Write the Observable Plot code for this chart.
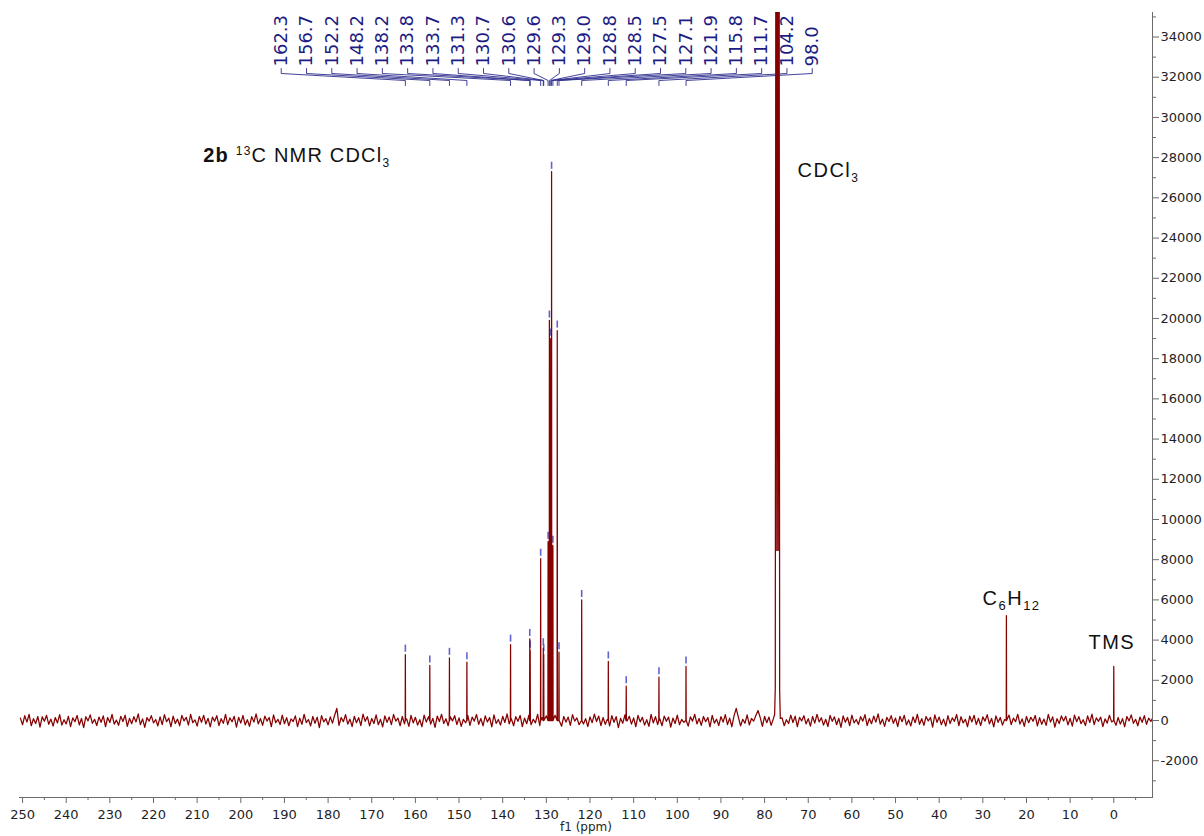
<!DOCTYPE html>
<html><head><meta charset="utf-8">
<script src="https://cdn.jsdelivr.net/npm/d3@7"></script>
<script src="https://cdn.jsdelivr.net/npm/@observablehq/plot@0.6"></script>
<style>html,body{margin:0;padding:0;background:#fff;} svg{display:block}</style>
</head><body><div id="chart"></div>
<script>
// ---------------- data ----------------
const peakPpm    = [162.3,156.7,152.2,148.2,138.2,133.8,133.7,131.3,130.7,130.6,129.6,129.3,129.0,128.8,128.5,127.5,127.1,121.9,115.8,111.7,104.2,98.0];
const peakHeight = [3280, 2740, 3120, 2900, 3780, 4060, 3480, 8050, 3600, 3300, 8900, 19900,19000,27300,8700, 19400,3400, 6000, 2940, 1710, 2160, 2690];
const peakLabels = ["162.3","156.7","152.2","148.2","138.2","133.8","133.7","131.3","130.7","130.6","129.6","129.3","129.0","128.8","128.5","127.5","127.1","121.9","115.8","111.7","104.2","98.0"];

const solventPpm = [77.7, 77.55, 77.36, 77.2, 77.04, 76.88, 76.72, 76.55, 76.4];
const solventInt = [300,  1650,  60000, 8460, 62000, 8460,  60000, 1500,  100];

const otherPpm    = [24.6, 0.0];   // C6H12, TMS
const otherHeight = [5220, 2690];

const noiseStart = 250.5, noiseStep = 0.5;
const noise = [
120,-210,240,-80,310,-260,90,-150,200,-330,180,-40,260,-190,70,-280,150,-120,290,-230,
40,-170,210,-300,130,-60,250,-220,100,-350,190,-20,280,-140,60,-250,170,-90,230,-310,
150,-100,300,-180,20,-240,210,-50,270,-290,110,-160,190,-70,330,-210,80,-340,140,-30,
240,-120,50,-270,180,-200,290,-60,120,-310,220,-150,70,-260,250,-20,160,-230,310,-110,
30,-280,200,-90,260,-180,110,-320,170,-40,240,-250,90,-140,300,-200,130,-60,210,-330,
160,-130,250,-220,40,-290,190,-80,330,-170,100,-240,220,-30,150,-310,280,-110,60,-200,
270,-160,140,-260,80,-50,230,-300,120,-190,310,-100,50,-270,200,-140,170,-350,240,-70,
90,-220,180,-130,260,600,-240,150,-60,290,-180,70,-300,210,-110,140,-250,320,-40,190,
-270,100,-150,280,-210,60,-320,230,-90,170,-200,300,-30,120,-260,200,-170,80,-290,250,
-120,160,-230,40,-310,270,-80,190,-180,110,-340,220,-50,310,-150,90,-260,180,-20,240,
-200,130,-290,60,-110,260,-240,170,-30,300,-190,100,-270,230,-70,150,-320,280,-140,50,
-230,210,-100,330,-170,80,-260,190,-40,250,-300,120,-160,270,-210,60,-120,310,-250,140,
-60,230,-190,100,-330,260,-140,40,-280,200,-80,170,-240,290,-30,130,-210,250,-170,90,
-300,180,-110,320,-50,220,-260,150,-190,60,-270,240,-90,190,-350,110,-140,280,-20,210,
-180,130,-310,250,-70,160,-230,40,-290,300,-120,190,-200,80,-260,220,-40,170,-330,120,
-150,270,-210,50,-90,240,-280,180,-30,310,-170,100,-240,200,-60,150,-320,260,-130,70,
-250,190,-80,290,-200,120,-310,230,600,160,-270,60,-140,280,-220,100,-30,250,500,140,
-290,210,-110,170,-240,80,-60,300,-190,130,-260,40,-150,270,-100,220,-310,160,-20,240,
-170,90,-280,200,-130,310,-70,140,-230,60,-300,250,-40,180,-210,110,-340,230,-90,150,
-260,270,-120,50,-200,190,-30,290,-250,100,-160,220,-80,330,-180,70,-290,160,-50,240,
-140,120,-300,210,-60,260,-220,30,-270,180,-110,310,-190,90,-240,200,-20,150,-330,280,
-90,170,-210,70,-280,240,-150,130,-40,300,-260,190,-120,60,-310,220,-70,260,-200,110,
-250,180,-30,290,-170,100,-320,230,-90,150,-230,50,-140,270,-210,120,-60,310,-180,80,
-290,200,-110,160,-40,250,-270,140,-190,70,-240,300,-80,180,-330,90,-150,230,-20,210,
-220,110,-280,270,-60,190,-160,40,-250,230,-100,320,-200,130,-40,170,-300,80,-130,260,
-70,220,-240,150,-180,90,-310,200,-20,280,-140,60,-260,170,-90,240,-190,120,-50,180
];

const xMajorTicks = [250,240,230,220,210,200,190,180,170,160,150,140,130,120,110,100,90,80,70,60,50,40,30,20,10,0];
const xMinorTicks = [245,235,225,215,205,195,185,175,165,155,145,135,125,115,105,95,85,75,65,55,45,35,25,15,5,-5];
const yMajorTicks = [-2000,0,2000,4000,6000,8000,10000,12000,14000,16000,18000,20000,22000,24000,26000,28000,30000,32000,34000];
const yMinorTicks = [-3000,-1000,1000,3000,5000,7000,9000,11000,13000,15000,17000,19000,21000,23000,25000,27000,29000,31000,33000,35000];

// annotation texts
const annoText = ["2b 13C NMR CDCl3", "CDCl3", "C6H12", "TMS"];
const annoPpm  = [208.6, 72.46, 30.08, 5.8];
const annoY    = [28106, 27360, 6067, 3877];

// ---------------- layout ----------------
const X_DOMAIN = [250.7, -8.87];
const Y_DOMAIN = [-3830, 35220];
const LABEL_FIRST = 190.74, LABEL_STEP = 5.793;       // label positions (ppm) evenly spread
const Y_TEXT = 32534, Y_A = 32434, Y_B = 32185, Y_C = 31837, Y_D = 31588;

// build spectrum
const allPeaks = peakPpm.map((p,i)=>({p, h: peakHeight[i]}))
  .concat(otherPpm.map((p,i)=>({p, h: otherHeight[i]})));
const pts = [];
noise.forEach((v,i)=>{
  const x = noiseStart - i*noiseStep;
  if (x < 77.75 && x > 76.35) return;
  if (allPeaks.some(d=>Math.abs(d.p - x) < 0.12)) return;
  pts.push({x, y: v});
});
allPeaks.forEach(d=>{
  pts.push({x: d.p + 0.04, y: 0}, {x: d.p, y: d.h}, {x: d.p - 0.04, y: 0});
});
solventPpm.forEach((p,i)=>pts.push({x:p, y: solventInt[i]}));
pts.sort((a,b)=>b.x - a.x);

const peakData = peakPpm.map((p,i)=>({ppm:p, h:peakHeight[i], label:peakLabels[i], lx: LABEL_FIRST - i*LABEL_STEP}));
const bracket = peakData.flatMap((d,i)=>[
  {i, x:d.lx, y:Y_A},{i, x:d.lx, y:Y_B},{i, x:d.ppm, y:Y_C},{i, x:d.ppm, y:Y_D}
]);
const annos = annoText.map((t,i)=>({t, x: annoPpm[i], y: annoY[i]}));

const axisColor = "#6b6b6b", textColor = "#1e1e28";

const chart = Plot.plot({
  width: 1204, height: 836,
  marginLeft: 19, marginRight: 52, marginTop: 12, marginBottom: 39,
  style: {fontFamily: "DejaVu Sans, Verdana, sans-serif", fontSize: "13px", background: "#fff"},
  x: {domain: X_DOMAIN},
  y: {domain: Y_DOMAIN},
  marks: [
    Plot.frame({anchor: "bottom", stroke: axisColor}),
    Plot.frame({anchor: "right", stroke: axisColor}),
    Plot.axisX({ticks: xMajorTicks, tickSize: 6, tickPadding: 6, tickFormat: d=>String(d), label: null, stroke: axisColor, fill: textColor}),
    Plot.axisX({ticks: xMinorTicks, tickSize: 3, tickFormat: ()=>"", label: null, stroke: axisColor}),
    Plot.axisY({anchor: "right", ticks: yMajorTicks, tickSize: 6, tickPadding: 2, tickFormat: d=>String(d), label: null, stroke: axisColor, fill: textColor}),
    Plot.axisY({anchor: "right", ticks: yMinorTicks, tickSize: 3, tickFormat: ()=>"", label: null, stroke: axisColor}),
    Plot.text(["f1 (ppm)"], {frameAnchor: "bottom", dy: 33.5, fill: textColor, fontSize: 12}),
    // peak labels
    Plot.line(bracket, {x: "x", y: "y", z: "i", stroke: "#2c2c8e", strokeWidth: 0.9}),
    Plot.text(peakData, {x: "lx", y: () => Y_TEXT, text: "label", rotate: -90, textAnchor: "start", lineAnchor: "middle", fill: "#1c1c84", fontSize: 18, fontFamily: "DejaVu Sans, Verdana, sans-serif"}),
    // peak markers
    Plot.ruleX(peakData, {x: "ppm", y1: d => d.h + 120, y2: d => d.h + 470, stroke: "#4848c4", strokeWidth: 1.6, strokeOpacity: 0.85}),
    // spectrum
    Plot.line(pts, {x: "x", y: "y", stroke: "#860000", strokeWidth: 1.25, clip: true}),
    // annotations
    Plot.text(annos, {x: "x", y: "y", text: "t", textAnchor: "start", lineAnchor: "middle", fill: "#111", fontSize: 20, fontFamily: "Liberation Sans, Arial, sans-serif"})
  ]
});

// rich text for sub/superscripts
const rich = {
  "2b 13C NMR CDCl3": '<tspan font-weight="bold">2b</tspan> <tspan font-size="12" dy="-7">13</tspan><tspan dy="7">C NMR CDCl</tspan><tspan font-size="12" dy="5">3</tspan>',
  "CDCl3": 'CDCl<tspan font-size="12" dy="5">3</tspan>',
  "C6H12": 'C<tspan font-size="13" dy="5">6</tspan><tspan dy="-5">H</tspan><tspan font-size="13" dy="5">12</tspan>',
  "TMS": 'TMS'
};
chart.querySelectorAll("text").forEach(t=>{
  const k = t.textContent;
  if (rich[k] !== undefined) {
    t.innerHTML = rich[k];
    t.setAttribute("letter-spacing", k === "2b 13C NMR CDCl3" ? "1.2" : "1.5");
  }
});
document.getElementById("chart").appendChild(chart);
</script>
</body></html>
